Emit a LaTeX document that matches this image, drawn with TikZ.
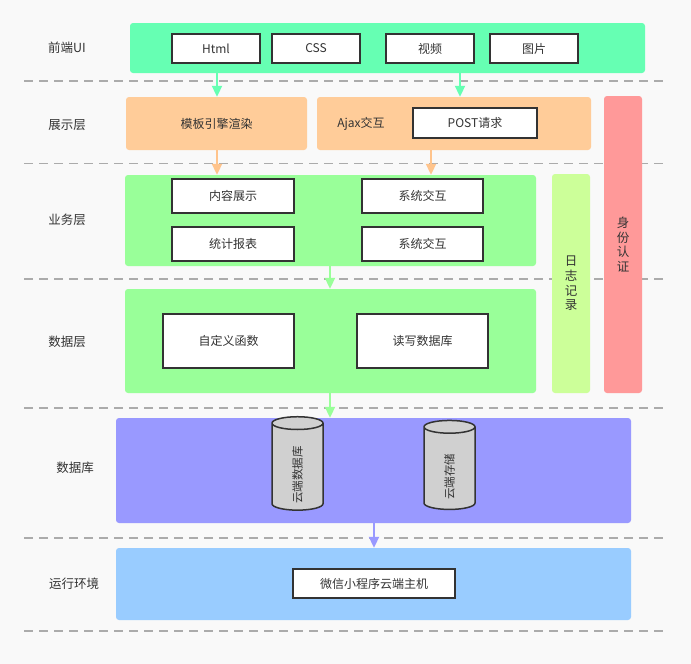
\documentclass[tikz,border=0pt]{standalone}
\usepackage{fontspec}
\setmainfont{Noto Sans CJK SC}
\usetikzlibrary{arrows.meta,shapes.geometric,fit}

\definecolor{bgc}{HTML}{F9F9F9}
\definecolor{mint}{HTML}{66FFB3}
\definecolor{peach}{HTML}{FFCC99}
\definecolor{peacharrow}{HTML}{FFC48C}
\definecolor{lgreen}{HTML}{99FF99}
\definecolor{ygreen}{HTML}{CCFF99}
\definecolor{rose}{HTML}{FF9999}
\definecolor{lavender}{HTML}{9999FF}
\definecolor{sky}{HTML}{99CCFF}
\definecolor{ink}{HTML}{333333}
\definecolor{cylgray}{HTML}{D0D0D0}
\definecolor{rulegray}{HTML}{ABABAB}

\tikzset{
  base/.style={font=\fontsize{12}{15}\selectfont, text=ink},
  band/.style={inner sep=0pt, rounded corners=3pt, draw=none},
  itembox/.style={inner sep=0pt, fill=white, draw=ink, line width=1.6pt},
  caption/.style={label={[base]center:#1}},
  layerlabel/.style={base, font=\fontsize{12.5}{15}\selectfont},
  vtext/.style={base, align=center, font=\fontsize{12.5}{14.7}\selectfont},
  store/.style={base, cylinder, rotate=90, draw=ink, line width=1.5pt, fill=cylgray,
    minimum width=51pt, aspect=1.2, inner sep=0pt, font=\fontsize{11.5}{12}\selectfont},
  flow/.style={line width=2pt, -{Triangle[width=10pt,length=11pt]}},
  divider/.style={rulegray, line width=1.3pt, dash pattern=on 9pt off 6pt}
}

\begin{document}
\begin{tikzpicture}[x=1pt,y=-1pt]
\useasboundingbox (0,0) rectangle (691,664);
\fill[bgc] (0,0) rectangle (691,664);

% layer dividers
\foreach \yy in {81,163.5,279,408,538,631}
  \draw[divider] (24,\yy) -- (668,\yy);

% layer names
\node[layerlabel] (l1) at (67,48) {前端UI};
\node[layerlabel] (l2) at (67,125) {展示层};
\node[layerlabel] (l3) at (67,220) {业务层};
\node[layerlabel] (l4) at (67,342) {数据层};
\node[layerlabel] (l5) at (75,468) {数据库};
\node[layerlabel] (l6) at (74,584) {运行环境};

% coloured layer bands
\node[band, fill=mint,     fit={(130,23) (645,73)}]   (ui)   {};
\node[band, fill=peach,    fit={(126,97) (307,150)}, caption=模板引擎渲染] (tpl) {};
\node[band, fill=peach,    fit={(317,97) (591,150)}]  (ajax) {};
\node[base] (ajaxtxt) at (361,124) {Ajax交互};
\node[band, fill=rose,     fit={(604,96) (642,393)}]  (auth) {};
\node[vtext] (authtxt) at (auth.center) {身\\份\\认\\证};
\node[band, fill=lgreen,   fit={(125,175) (536,266)}] (biz)  {};
\node[band, fill=ygreen,   fit={(552,174) (590,393)}] (log)  {};
\node[vtext] (logtxt) at (log.center) {日\\志\\记\\录};
\node[band, fill=lgreen,   fit={(125,289) (536,393)}] (data) {};
\node[band, fill=lavender, fit={(116,418) (631,523)}] (db)   {};
\node[band, fill=sky,      fit={(116,548) (631,620)}] (env)  {};

% front-end items
\node[itembox, fit={(172,34) (260,63)}, caption=Html] (html)  {};
\node[itembox, fit={(272,34) (360,63)}, caption=CSS]  (css)   {};
\node[itembox, fit={(386,34) (474,63)}, caption=视频] (video) {};
\node[itembox, fit={(490,34) (578,63)}, caption=图片] (pic)   {};

% presentation items
\node[itembox, fit={(413,108) (537,138)}, caption=POST请求] (post) {};

% business items
\node[itembox, fit={(172,179) (294,213)}, caption=内容展示] (content) {};
\node[itembox, fit={(172,227) (294,261)}, caption=统计报表] (stats)   {};
\node[itembox, fit={(362,179) (483,213)}, caption=系统交互] (sys1)    {};
\node[itembox, fit={(362,227) (483,261)}, caption=系统交互] (sys2)    {};

% data items
\node[itembox, fit={(163,314) (294,368)}, caption=自定义函数] (func) {};
\node[itembox, fit={(357,314) (488,368)}, caption=读写数据库] (rw)   {};

% storage (a trailing kern nudges the rotated text away from the top cap)
\node[store, minimum height=90pt] (clouddb)    at (297.5,467)   {云端数据库\kern16pt};
\node[store, minimum height=89pt] (cloudstore) at (449.5,468.5) {云端存储\kern16pt};

% runtime
\node[itembox, fit={(293,569) (455,598)}, caption=微信小程序云端主机] (host) {};

% arrow columns
\coordinate (c1) at (217,0);
\coordinate (c2) at (460,0);
\coordinate (c3) at (431,0);
\coordinate (c4) at (330,0);
\coordinate (c5) at (374,0);

\draw[flow, mint]       (ui.south -| c1)   -- (tpl.north -| c1);
\draw[flow, mint]       (ui.south -| c2)   -- (ajax.north -| c2);
\draw[flow, peacharrow] (tpl.south -| c1)  -- (biz.north -| c1);
\draw[flow, peacharrow] (ajax.south -| c3) -- (biz.north -| c3);
\draw[flow, lgreen]     (biz.south -| c4)  -- (data.north -| c4);
\draw[flow, lgreen]     (data.south -| c4) -- (db.north -| c4);
\draw[flow, lavender]   (db.south -| c5)   -- (env.north -| c5);
\end{tikzpicture}
\end{document}
